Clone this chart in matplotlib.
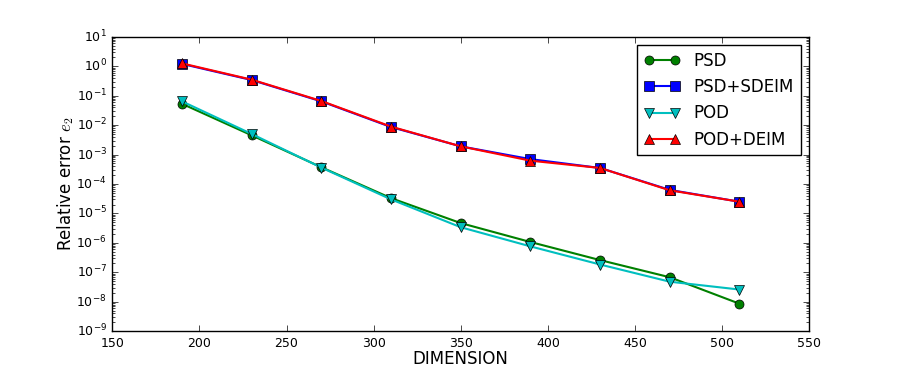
import matplotlib
matplotlib.use("Agg")
import matplotlib.pyplot as plt

plt.style.use('classic')

dimension = [190, 230, 270, 310, 350, 390, 430, 470, 510]
psd = [5.3e-2, 4.5e-3, 3.7e-4, 3.3e-5, 4.7e-6, 1.07e-6, 2.6e-7, 6.8e-8, 8.6e-9]
psd_sdeim = [1.2, 0.34, 0.064, 8.6e-3, 1.9e-3, 7.0e-4, 3.5e-4, 6.3e-5, 2.5e-5]
pod = [6.4e-2, 5.0e-3, 3.6e-4, 3.0e-5, 3.4e-6, 7.6e-7, 1.84e-7, 4.8e-8, 2.6e-8]
pod_deim = [1.25, 0.35, 0.066, 8.9e-3, 1.9e-3, 6.2e-4, 3.5e-4, 6.1e-5, 2.5e-5]

fig = plt.figure(figsize=(8.99, 3.68), dpi=100)
ax = fig.add_subplot(111)
ms = 6.5
ax.semilogy(dimension, psd, 'g-o', lw=1.5, ms=ms, label='PSD')
ax.semilogy(dimension, psd_sdeim, 'b-s', lw=1.5, ms=ms, label='PSD+SDEIM')
ax.semilogy(dimension, pod, 'c-v', lw=1.5, ms=ms, label='POD')
ax.semilogy(dimension, pod_deim, 'r-^', lw=1.5, ms=ms, label='POD+DEIM')
ax.set_xlim(150, 550)
ax.set_ylim(1e-9, 1e1)
ax.tick_params(labelsize=9)
ax.set_xlabel('DIMENSION', fontsize=12, labelpad=0.5)
ax.set_ylabel('Relative error $e_2$', fontsize=12, labelpad=0)
ax.legend(loc='upper right', fontsize=12, numpoints=2, handlelength=2.2)
fig.savefig('out.png', dpi=100)
